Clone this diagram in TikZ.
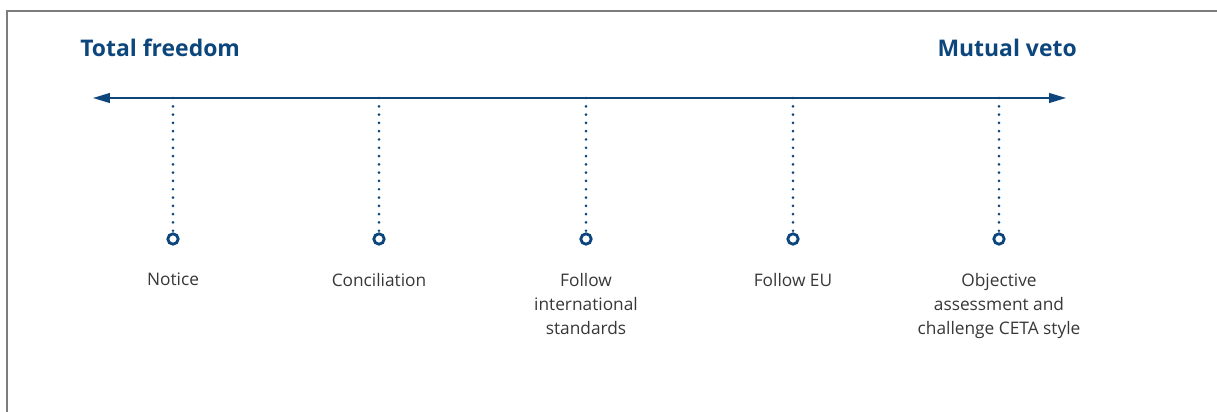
\documentclass[tikz,border=0pt]{standalone}
\usepackage{fontspec}
\setmainfont{Open Sans}
\usepackage{xcolor}
\usetikzlibrary{arrows.meta,positioning}
\definecolor{scaleblue}{RGB}{12,70,124}
\definecolor{labelgray}{RGB}{55,55,55}
\definecolor{framegray}{RGB}{125,125,125}

\begin{document}
\begin{tikzpicture}[
    x=0.025cm,y=-0.025cm,
    title/.style={font=\fontsize{16.3}{18}\selectfont\bfseries,text=scaleblue,inner sep=0pt},
    stop/.style={circle,draw=scaleblue,line width=2pt,minimum size=0.26cm,inner sep=0pt},
    option/.style={align=center,font=\fontsize{12.3}{17}\selectfont,text=labelgray,inner sep=0pt},
    leader/.style={draw=scaleblue,line width=2.1pt,line cap=round,dash pattern=on 0pt off 5.9pt}
]
\useasboundingbox (0,0) rectangle (1217,412);
\draw[framegray,line width=1.5pt] (7,412) -- (7,11) -- (1217,11);

% the two ends of the scale
\node[title,anchor=base west] (free) at (80,57) {Total freedom};
\node[title,anchor=base east] (veto) at (1077,57) {Mutual veto};

\coordinate (lend) at (93,98);
\coordinate (rend) at (1066,98);
\draw[scaleblue,line width=1pt,{Triangle[length=12pt,width=7pt]}-{Triangle[length=12pt,width=7pt]}] (lend) -- (rend);

% options along the scale
\foreach \x/\name/\txt in {173/notice/{Notice},
    379/concil/{Conciliation},
    586/intl/{Follow\\international\\standards},
    793/followeu/{Follow EU},
    999/ceta/{Objective\\assessment and\\challenge CETA style}}{
  \coordinate (\name top) at (\x,98);
  \node[stop] (\name) at (\x,239) {};
  \draw[leader] (\name top) -- (\name.north);
  \node[option,below=0.68cm of \name] (\name label) {\txt};
}
\end{tikzpicture}
\end{document}
